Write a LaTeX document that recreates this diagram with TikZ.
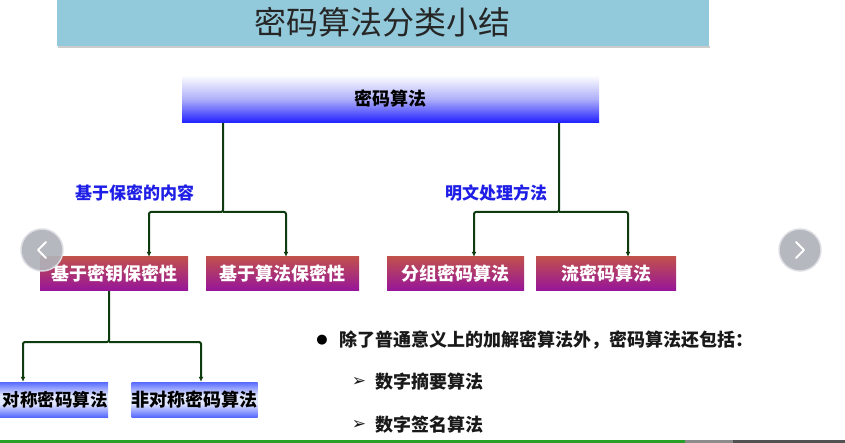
\documentclass[tikz,border=0pt]{standalone}
\usepackage{fontspec}
\setmainfont{Noto Sans CJK SC}
\newfontfamily\cjk{Noto Sans CJK SC}
\newfontfamily\sym{DejaVu Sans}
\usetikzlibrary{arrows.meta,shadings}
\definecolor{titlebg}{RGB}{146,202,220}
\definecolor{mainblue}{RGB}{30,30,255}
\definecolor{midblue}{RGB}{175,175,250}
\definecolor{redtop}{RGB}{192,80,77}
\definecolor{purplebot}{RGB}{150,20,155}
\definecolor{boxblue}{RGB}{85,105,255}
\definecolor{boxlight}{RGB}{225,230,255}
\definecolor{connc}{RGB}{15,60,15}
\definecolor{lblblue}{RGB}{30,30,230}
\definecolor{navgray}{RGB}{176,178,186}
\definecolor{navring}{RGB}{222,222,228}
\definecolor{pgreen}{RGB}{40,160,40}
\pgfdeclareverticalshading{bluebar}{100bp}{color(0bp)=(boxblue); color(25bp)=(boxblue); color(44bp)=(boxlight); color(56bp)=(boxlight); color(75bp)=(boxblue); color(100bp)=(boxblue)}
\tikzset{
  titletext/.style={font=\cjk\fontsize{32}{34}\selectfont, text=black!85},
  mainbox/.style={draw=none, top color=white, bottom color=mainblue, middle color=midblue,
     minimum width=417pt, minimum height=48pt, inner sep=0pt,
     font=\cjk\bfseries\fontsize{18}{20}\selectfont},
  redbox/.style={draw=none, top color=redtop, bottom color=purplebot, text=white,
     minimum height=34pt, inner sep=0pt, font=\cjk\bfseries\fontsize{18}{20}\selectfont},
  bluebox/.style={draw=none, shading=bluebar,
     minimum height=35pt, inner sep=0pt, font=\cjk\bfseries\fontsize{18}{20}\selectfont},
  lbl/.style={text=lblblue, font=\cjk\bfseries\fontsize{17}{19}\selectfont},
  conn/.style={draw=connc, line width=2pt, rounded corners=2pt, -{Latex[length=5pt,width=5pt]}},
  bodytext/.style={anchor=west, inner sep=0pt, text=black!90, font=\cjk\bfseries\fontsize{18}{20}\selectfont},
  arrowbul/.style={inner sep=0pt, text=black!90, font=\sym\fontsize{17}{18}\selectfont},
  navcirc/.style={circle, fill=navgray, draw=navring, line width=1.5pt, minimum size=42pt, inner sep=0pt, opacity=0.92},
  chev/.style={draw=white, line width=2pt, line cap=round, line join=round}
}
\begin{document}
\begin{tikzpicture}[x=1pt,y=-1pt]
\useasboundingbox (0,0) rectangle (845,443);
\clip (0,0) rectangle (845,443);
\fill[white] (0,0) rectangle (845,443);
% title bar
\fill[black!20] (58,46) rectangle (710,48);
\fill[titlebg] (57,0) rectangle (709,46);
\node[titletext] (title) at (382,22) {密码算法分类小结};
% main box
\node[mainbox] (main) at (390.5,99) {密码算法};
% level-1 boxes
\node[redbox, minimum width=148pt] (b1) at (114,274) {基于密钥保密性};
\node[redbox, minimum width=153pt] (b2) at (282.5,274) {基于算法保密性};
\node[redbox, minimum width=137pt] (b3) at (455.5,274) {分组密码算法};
\node[redbox, minimum width=140pt] (b4) at (606,274) {流密码算法};
% level-2 boxes
\node[bluebox, minimum width=128pt, text width=128pt, align=right, font=\cjk\bfseries\fontsize{17.5}{20}\selectfont] (b5) at (44,399.5) {对称密码算法};
\node[bluebox, minimum width=125pt] (b6) at (194.5,399.5) {非对称密码算法};
% labels
\node[lbl] (l1) at (134.5,193) {基于保密的内容};
\node[lbl] (l2) at (496,193) {明文处理方法};
% junction coordinates
\coordinate (j1) at (223,212);
\coordinate (j2) at (559,212);
\coordinate (j3) at (109,342);
\coordinate (x1) at (149,0);
\coordinate (x2) at (286,0);
\coordinate (x3) at (474,0);
\coordinate (x4) at (628,0);
\coordinate (x5) at (23,0);
\coordinate (x6) at (201,0);
% connectors
\draw[conn] (main.south -| j1) -- (j1) -| (b1.north -| x1);
\draw[conn] (j1) -| (b2.north -| x2);
\draw[conn] (main.south -| j2) -- (j2) -| (b3.north -| x3);
\draw[conn] (j2) -| (b4.north -| x4);
\draw[conn] (b1.south -| j3) -- (j3) -| (b5.north -| x5);
\draw[conn] (j3) -| (b6.north -| x6);
% bullet text
\node[inner sep=0pt, font=\sym\fontsize{13}{14}\selectfont] (bul) at (322,340) {●};
\node[bodytext] (t1) at (339,340) {除了普通意义上的加解密算法外，密码算法还包括：};
\node[arrowbul] (a1) at (359,382) {➢};
\node[bodytext] (t2) at (375,382) {数字摘要算法};
\node[arrowbul] (a2) at (359,425) {➢};
\node[bodytext] (t3) at (375,425) {数字签名算法};
% nav buttons
\node[navcirc] (navl) at (42,250) {};
\draw[chev] ([shift={(4,-8)}]navl.center) -- ([shift={(-4,0)}]navl.center) -- ([shift={(4,8)}]navl.center);
\node[navcirc] (navr) at (800,250) {};
\draw[chev] ([shift={(-4,-8)}]navr.center) -- ([shift={(4,0)}]navr.center) -- ([shift={(-4,8)}]navr.center);
% progress bar
\fill[pgreen] (0,440) rectangle (685,443);
\fill[black!45] (685,440) rectangle (733,443);
\fill[black!68] (733,440) rectangle (845,443);
\end{tikzpicture}
\end{document}
